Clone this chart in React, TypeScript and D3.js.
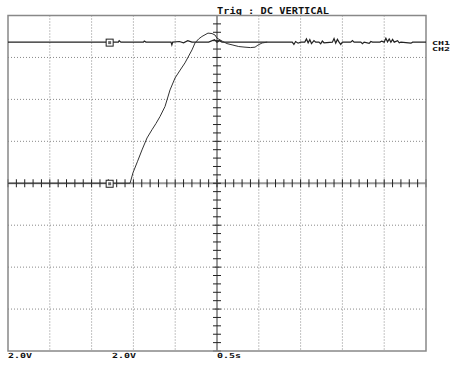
import * as d3 from "d3";

// Scope screen: 10 x 8 divisions, 0.5 s/div and 2.0 V/div
const timeDivs = [0, 0.5, 1, 1.5, 2, 2.5, 3, 3.5, 4, 4.5, 5];
const voltDivs = [-8, -6, -4, -2, 0, 2, 4, 6, 8];
const bottomLabels = ["2.0V", "2.0V", "0.5s"];
const channelLabels = ["CH1", "CH2"];
const trigLabel = "Trig : DC VERTICAL";

// CH2 step response, [time s, volts]
const ch2: [number, number][] = [
  [0, 0], [1.46, 0], [1.495, 0.5], [1.55, 1.05], [1.603, 1.59], [1.663, 2.16],
  [1.722, 2.55], [1.77, 2.85], [1.818, 3.18], [1.878, 3.66], [1.938, 4.45],
  [1.998, 5.02], [2.06, 5.4], [2.117, 5.74], [2.201, 6.36], [2.237, 6.69],
  [2.28, 6.88], [2.32, 7.0], [2.392, 7.16], [2.44, 7.14], [2.476, 7.07],
  [2.5, 6.92], [2.57, 6.76], [2.62, 6.66], [2.68, 6.6], [2.76, 6.52],
  [2.835, 6.49], [2.9, 6.47], [2.955, 6.49], [2.99, 6.59], [3.04, 6.69], [3.1, 6.73],
];

// CH1 level with its noise, [time s, volts]
const ch1: [number, number][] = [
  [0, 6.73], [1.32, 6.73], [1.33, 6.8], [1.35, 6.73], [1.62, 6.73], [1.63, 6.78],
  [1.65, 6.73], [1.95, 6.73], [1.96, 6.6], [1.97, 6.73], [2.05, 6.76], [2.1, 6.7],
  [2.15, 6.8], [2.2, 6.73], [2.4, 6.73], [2.47, 6.85], [2.5, 6.73], [2.53, 6.8],
  [2.56, 6.73], [3.4, 6.73], [3.42, 6.62], [3.44, 6.76], [3.47, 6.68], [3.5, 6.73],
  [3.55, 6.73], [3.57, 6.88], [3.59, 6.7], [3.61, 6.85], [3.63, 6.66], [3.66, 6.8],
  [3.68, 6.73], [3.72, 6.73], [3.74, 6.65], [3.76, 6.78], [3.78, 6.7], [3.88, 6.73],
  [3.9, 6.9], [3.92, 6.68], [3.94, 6.86], [3.96, 6.73], [3.98, 6.62], [4.0, 6.73],
  [4.1, 6.73], [4.12, 6.8], [4.14, 6.73], [4.22, 6.73], [4.24, 6.66], [4.26, 6.73],
  [4.32, 6.67], [4.34, 6.76], [4.36, 6.73], [4.45, 6.73], [4.47, 6.78], [4.5, 6.73],
  [4.52, 6.92], [4.54, 6.74], [4.56, 6.88], [4.58, 6.72], [4.6, 6.86], [4.62, 6.73],
  [4.66, 6.8], [4.68, 6.7], [4.7, 6.73], [4.82, 6.68], [4.84, 6.73], [5, 6.73],
];

// ground reference markers, [time s, volts]
const markers: [number, number][] = [[1.21, 6.73], [1.21, 0]];

const font = "'DejaVu Sans Mono', monospace";

export default function App() {
  const x = d3.scaleLinear().domain([0, 5]).range([8, 426]);
  const y = d3.scaleLinear().domain([-8, 8]).range([351, 15.5]);
  const line = d3.line<[number, number]>().x((d) => x(d[0])).y((d) => y(d[1]));
  const minorT = d3.range(0, 5.001, 0.1);
  const minorV = d3.range(-8, 8.001, 0.4);

  return (
    <svg width={450} height={365} style={{ position: "fixed", left: 0, top: 0, background: "#fff" }}>
      <text x={217} y={13.5} fontFamily={font} fontWeight="bold" fontSize={8} textLength={112} lengthAdjust="spacingAndGlyphs" fill="#111">
        {trigLabel}
      </text>

      {/* dotted grid */}
      {timeDivs.slice(1, -1).filter((t) => t !== 2.5).map((t) => (
        <line key={"gx" + t} x1={x(t)} x2={x(t)} y1={y(8)} y2={y(-8)} stroke="#888" strokeDasharray="1,2" />
      ))}
      {voltDivs.slice(1, -1).filter((v) => v !== 0).map((v) => (
        <line key={"gy" + v} x1={x(0)} x2={x(5)} y1={y(v)} y2={y(v)} stroke="#888" strokeDasharray="1,2" />
      ))}

      {/* centre axes with minor ticks */}
      <line x1={x(0)} x2={x(5)} y1={y(0)} y2={y(0)} stroke="#999" strokeWidth={2} />
      <line x1={x(2.5)} x2={x(2.5)} y1={y(8)} y2={y(-8)} stroke="#999" strokeWidth={2} />
      {minorT.map((t) => (
        <line key={"tt" + t} x1={x(t)} x2={x(t)} y1={y(0) - 4} y2={y(0) + 4} stroke="#222" />
      ))}
      {minorV.map((v) => (
        <line key={"tv" + v} x1={x(2.5) - 4} x2={x(2.5) + 4} y1={y(v)} y2={y(v)} stroke="#222" />
      ))}

      {/* frame */}
      <rect x={x(0)} y={y(8)} width={x(5) - x(0)} height={y(-8) - y(8)} fill="none" stroke="#888" strokeWidth={1.5} />

      {/* traces */}
      <path d={line(ch1) ?? ""} fill="none" stroke="#222" strokeWidth={1.2} />
      <path d={line(ch2) ?? ""} fill="none" stroke="#333" strokeWidth={1} />

      {markers.map((m, i) => (
        <g key={"m" + i}>
          <rect x={x(m[0]) - 3} y={y(m[1]) - 3} width={7} height={7} fill="#fff" stroke="#222" />
          <rect x={x(m[0]) - 1} y={y(m[1]) - 1} width={3} height={3} fill="#666" />
        </g>
      ))}

      {channelLabels.map((c, i) => (
        <text key={c} x={432} y={45 + i * 5.5} fontFamily={font} fontWeight="bold" fontSize={5.5} textLength={18} lengthAdjust="spacingAndGlyphs" fill="#111">
          {c}
        </text>
      ))}

      {bottomLabels.map((s, i) => (
        <text key={"b" + i} x={[8, 112, 217][i]} y={358} fontFamily={font} fontWeight="bold" fontSize={7} textLength={24} lengthAdjust="spacingAndGlyphs" fill="#111">
          {s}
        </text>
      ))}
    </svg>
  );
}
